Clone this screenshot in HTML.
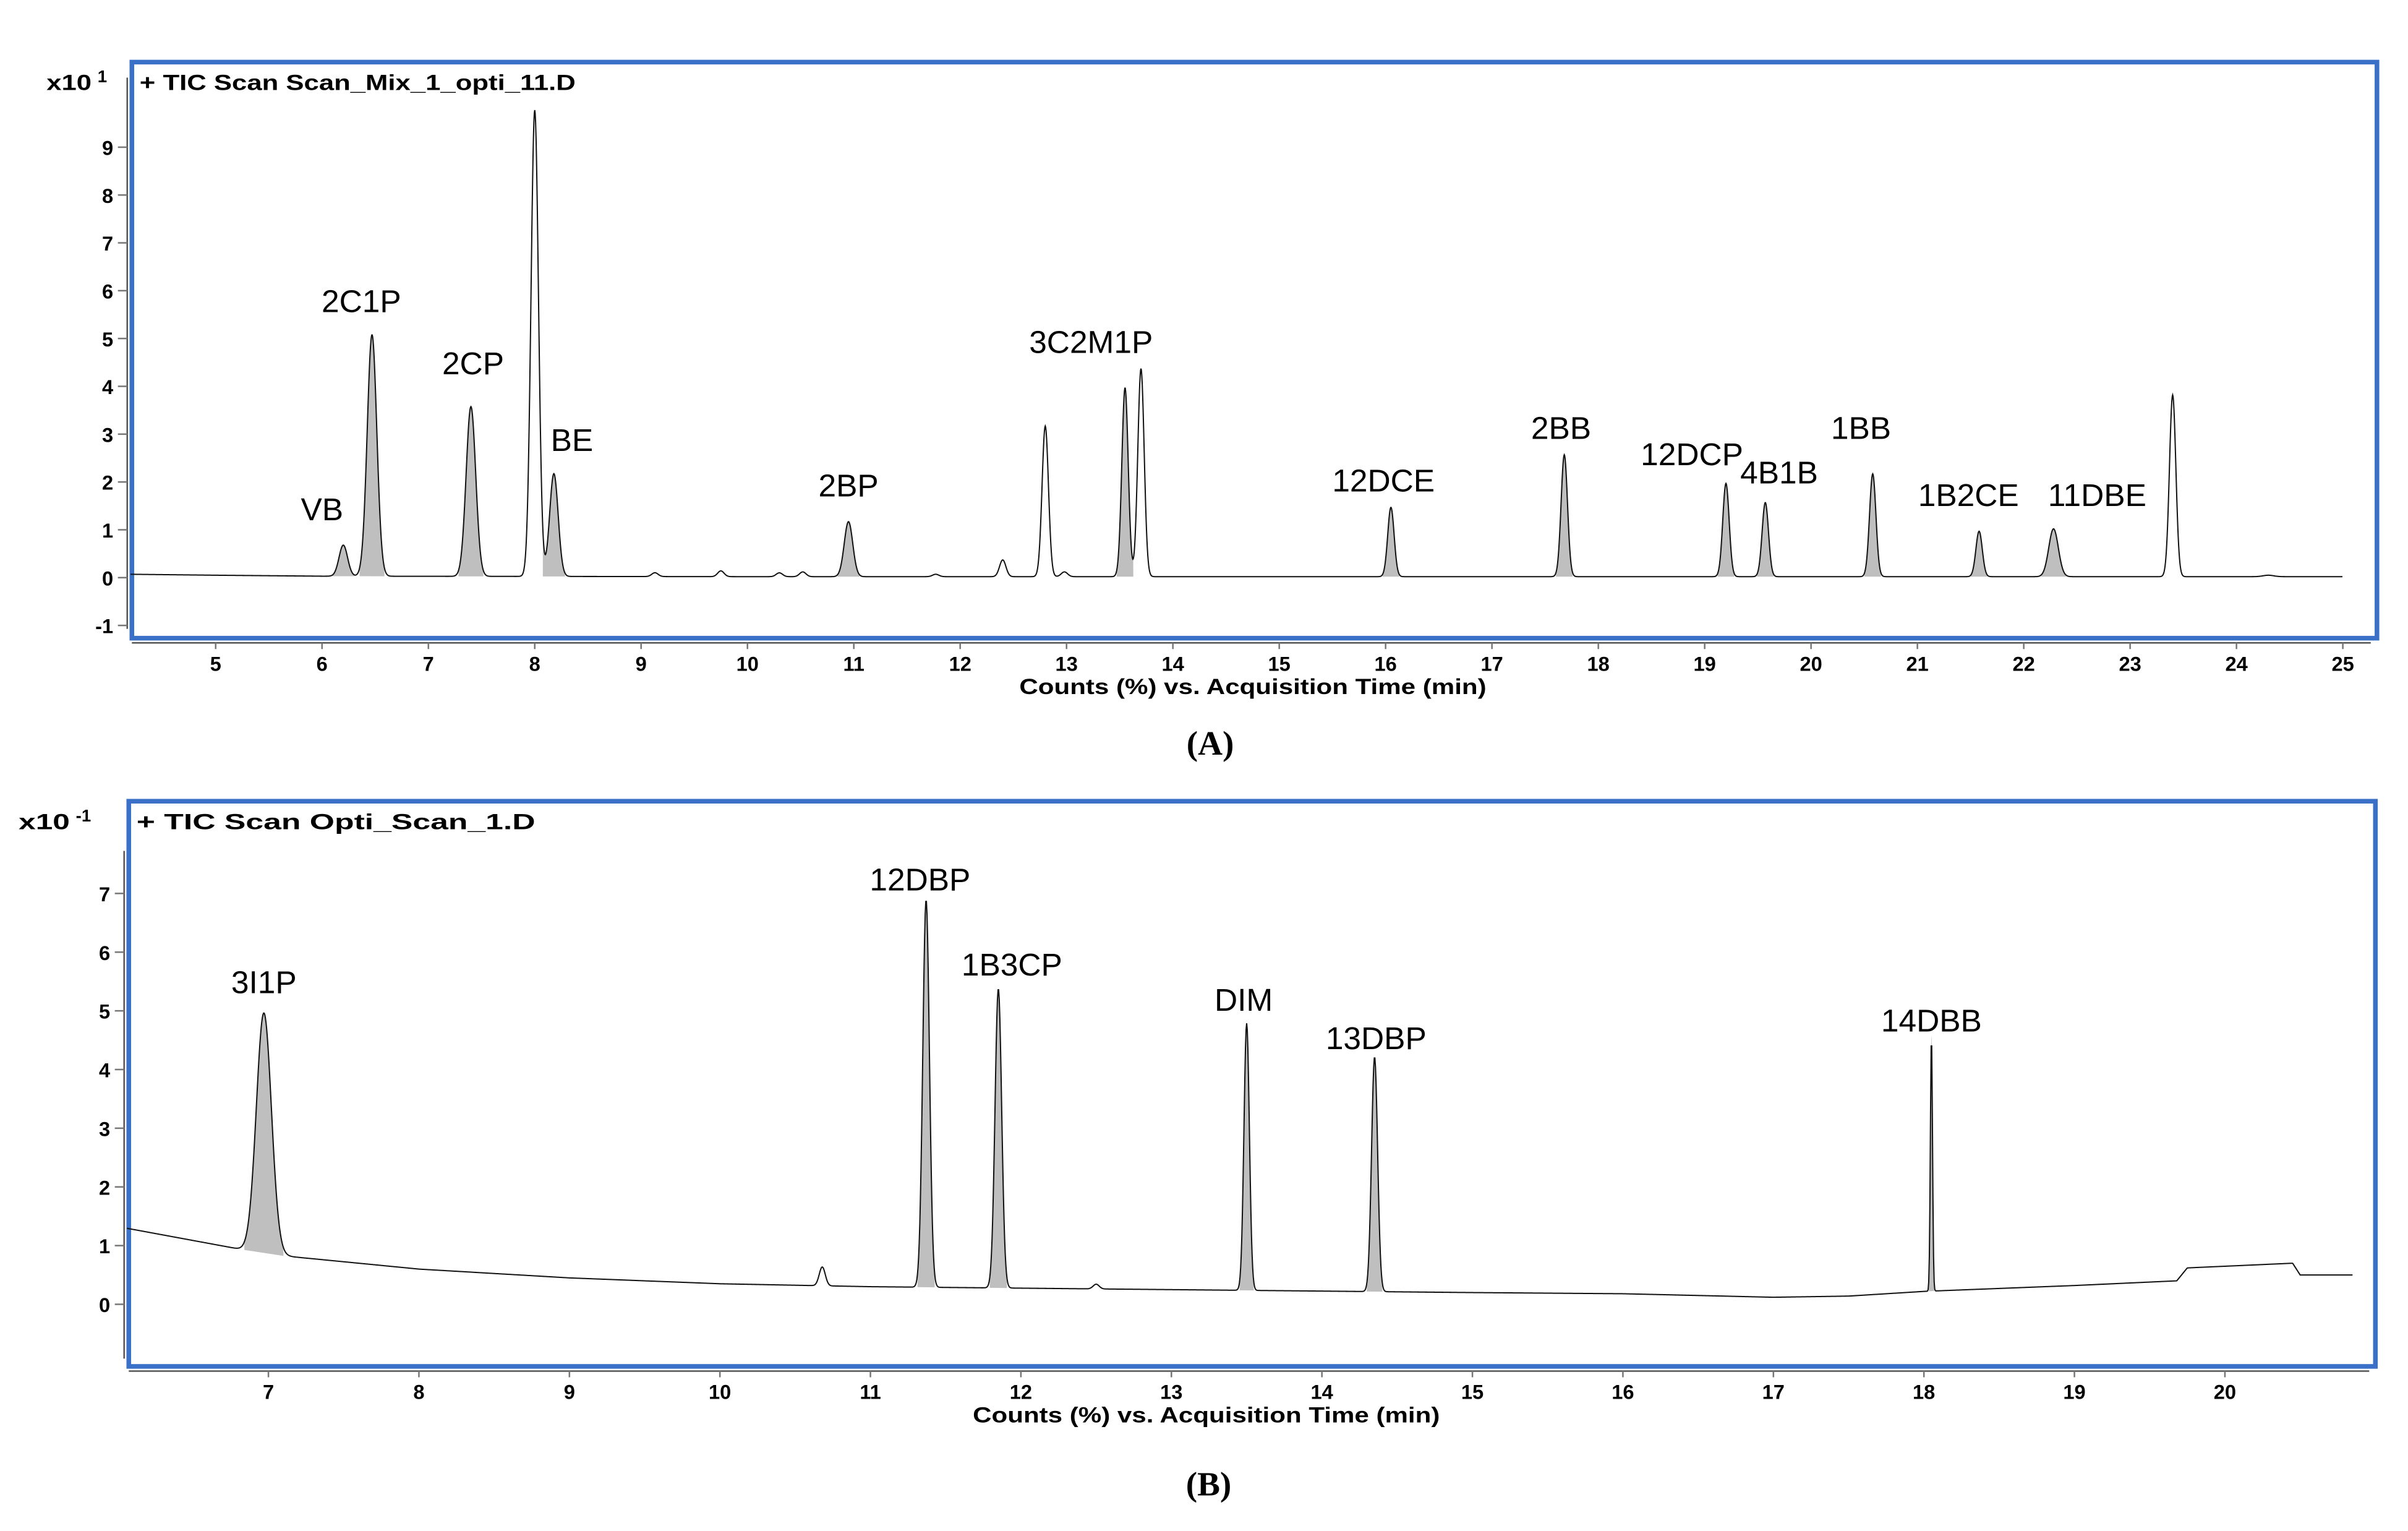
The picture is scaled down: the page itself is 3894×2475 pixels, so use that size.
<!DOCTYPE html>
<html><head><meta charset="utf-8"><style>
html,body{margin:0;padding:0;background:#fff;}
svg{display:block;}
text{font-family:"Liberation Sans",Arial,sans-serif;fill:#000;}
.tick{font-weight:bold;font-size:13px;}
.lbl{font-size:20.5px;}
.ttl{font-weight:bold;font-size:14px;}
.cap{font-family:"Liberation Serif",serif;font-weight:bold;font-size:22px;}
</style></head><body>
<svg id="fig" width="3894" height="2475" viewBox="0 0 1552 986" preserveAspectRatio="none" xmlns="http://www.w3.org/2000/svg">
<g id="panelA"></g>
<g id="panelB"></g>
<text class="cap" x="780" y="486" text-anchor="middle">(A)</text>
<text class="cap" x="779" y="963" text-anchor="middle">(B)</text>
</svg>
<script>
// ---- Panel A data ----
const aPeakTimes   = [6.2, 6.47, 7.4, 8.0, 8.18, 9.13, 9.75, 10.3, 10.52, 10.95, 11.77, 12.4, 12.8, 12.98, 13.55, 13.7, 16.05, 17.68, 19.2, 19.57, 20.58, 21.58, 22.28, 23.4, 24.3];
const aPeakHeights = [0.65, 5.05, 3.55, 9.75, 2.15, 0.08, 0.12, 0.08, 0.1, 1.15, 0.05, 0.35, 3.15, 0.1, 3.95, 4.35, 1.45, 2.55, 1.95, 1.55, 2.15, 0.95, 1.0, 3.8, 0.03];
const aPeakWidths  = [0.04, 0.045, 0.045, 0.035, 0.04, 0.03, 0.03, 0.03, 0.03, 0.04, 0.03, 0.03, 0.03, 0.03, 0.03, 0.03, 0.03, 0.03, 0.03, 0.03, 0.03, 0.03, 0.045, 0.03, 0.05];
const aPeakFilled  = [1,1,1,0,1,0,0,0,0,1,0,0,0,0,1,0,1,1,1,1,1,1,1,0,0];
const aBaseTimes   = [4.2, 5.0, 6.0, 10.0, 25.0];
const aBaseValues  = [0.07, 0.05, 0.03, 0.02, 0.02];
const aLabels      = ["VB","2C1P","2CP","BE","2BP","3C2M1P","12DCE","2BB","12DCP","4B1B","1BB","1B2CE","11DBE"];
const aLabelT      = [6.0, 6.37, 7.42, 8.35, 10.95, 13.23, 15.98, 17.65, 18.88, 19.7, 20.47, 21.48, 22.69];
const aLabelV      = [1.2, 5.55, 4.25, 2.65, 1.7, 4.7, 1.8, 2.9, 2.35, 1.97, 2.9, 1.5, 1.5];
const aXTicks      = [5,6,7,8,9,10,11,12,13,14,15,16,17,18,19,20,21,22,23,24,25];
const aYTicks      = [-1,0,1,2,3,4,5,6,7,8,9];

// ---- Panel B data ----
const bPeakTimes   = [6.97, 10.68, 11.37, 11.85, 12.5, 13.5, 14.35, 18.05];
const bPeakHeights = [4.1, 0.32, 6.6, 5.1, 0.08, 4.55, 4.0, 4.35];
const bPeakWidths  = [0.05, 0.02, 0.022, 0.022, 0.02, 0.018, 0.02, 0.007];
const bPeakFilled  = [1,0,1,1,0,1,1,1];
const bBaseTimes   = [6.05, 7.0, 8.0, 9.0, 10.0, 11.0, 13.0, 15.0, 16.0, 17.0, 17.5, 18.0, 19.0, 19.68, 19.75, 20.45, 20.5, 20.85];
const bBaseValues  = [1.3, 0.85, 0.6, 0.45, 0.35, 0.3, 0.25, 0.2, 0.18, 0.12, 0.14, 0.22, 0.32, 0.4, 0.62, 0.7, 0.5, 0.5];
const bLabels      = ["3I1P","12DBP","1B3CP","DIM","13DBP","14DBB"];
const bLabelT      = [6.97, 11.33, 11.94, 13.48, 14.36, 18.05];
const bLabelV      = [5.3, 7.05, 5.6, 5.0, 4.35, 4.65];
const bXTicks      = [7,8,9,10,11,12,13,14,15,16,17,18,19,20];
const bYTicks      = [0,1,2,3,4,5,6,7];

const NS = "http://www.w3.org/2000/svg";
function mk(parent, tag, attrs){ const e=document.createElementNS(NS,tag); for(const k in attrs) e.setAttribute(k,attrs[k]); parent.appendChild(e); return e; }

function interp(ts, vs, t){
  if(t<=ts[0]) return vs[0];
  for(let i=1;i<ts.length;i++){ if(t<=ts[i]){ const f=(t-ts[i-1])/(ts[i]-ts[i-1]); return vs[i-1]+f*(vs[i]-vs[i-1]); } }
  return vs[vs.length-1];
}

function drawPanel(g, cfg){
  const X = t => cfg.x0 + (t - cfg.t0) * cfg.px;
  const Y = v => cfg.y0 - v * cfg.py;
  const fr = mk(g,'rect',{x:cfg.fl,y:cfg.ft,width:cfg.fr-cfg.fl,height:cfg.fb-cfg.ft,fill:'none',stroke:'#3a70c8','stroke-width':3});
  
  
  const ya = mk(g,'line',{x1:cfg.fl-3,y1:cfg.yaTop,x2:cfg.fl-3,y2:cfg.yaBot,stroke:'#555','stroke-width':1});
  
  
  const xa = mk(g,'line',{x1:cfg.fl,y1:cfg.fb+3,x2:cfg.fr-4,y2:cfg.fb+3,stroke:'#555','stroke-width':1});
  
  
  cfg.yTicks.forEach(v=>{
    const l = mk(g,'line',{x1:cfg.fl-9,y1:Y(v),x2:cfg.fl-3,y2:Y(v),stroke:'#777','stroke-width':1});
    
    
    const t = mk(g,'text',{x:cfg.fl-12,y:Y(v)+5,'text-anchor':'end',class:'tick'});
    t.textContent = v;
    
    
  });
  cfg.xTicks.forEach(v=>{
    const l = mk(g,'line',{x1:X(v),y1:cfg.fb+3,x2:X(v),y2:cfg.fb+7,stroke:'#777','stroke-width':1});
    
    
    const t = mk(g,'text',{x:X(v),y:cfg.fb+21,'text-anchor':'middle',class:'tick'});
    t.textContent = v;
    
    
  });
  const xt = mk(g,'text',{x:cfg.xtL,y:cfg.fb+36,class:'ttl',textLength:301,lengthAdjust:'spacingAndGlyphs'});
  xt.textContent = 'Counts (%) vs. Acquisition Time (min)';
  
  
  const sc = mk(g,'text',{x:cfg.scX,y:cfg.ft+18,class:'ttl'});
  sc.innerHTML = '<tspan textLength="'+cfg.scW+'" lengthAdjust="spacingAndGlyphs">x10</tspan> <tspan dy="-5" font-size="11">'+cfg.exp+'</tspan>';
  
  
  const ti = mk(g,'text',{x:cfg.fl+5,y:cfg.ft+18,class:'ttl',textLength:cfg.titleW,lengthAdjust:'spacingAndGlyphs'});
  ti.textContent = cfg.title;
  
  

  const sig = t => { let v = interp(cfg.bt, cfg.bv, t); for(let i=0;i<cfg.pt.length;i++){ const d=(t-cfg.pt[i])/cfg.pw[i]; v += cfg.ph[i]*Math.exp(-0.5*d*d);} return v; };
  cfg.pt.forEach((c,i)=>{
    if(!cfg.pf[i]) return;
    const a=c-2.6*cfg.pw[i], b=c+2.6*cfg.pw[i];
    let d='M'+X(a)+','+Y(interp(cfg.bt,cfg.bv,a));
    for(let t=a;t<=b+1e-9;t+=cfg.pw[i]/12) d+=' L'+X(t).toFixed(2)+','+Y(sig(t)).toFixed(2);
    d+=' L'+X(b)+','+Y(interp(cfg.bt,cfg.bv,b))+' Z';
    const p = mk(g,'path',{d:d,fill:'#bfbfbf',stroke:'none'});
    
    
  });
  let d='';
  for(let t=cfg.tStart;t<=cfg.tEnd;t+=0.004){ d += (d?' L':'M')+X(t).toFixed(2)+','+Y(sig(t)).toFixed(2); }
  const tr = mk(g,'path',{d:d,fill:'none',stroke:'#111','stroke-width':0.8});
  
  
  cfg.lab.forEach((s,i)=>{
    const t = mk(g,'text',{x:X(cfg.lt[i]),y:Y(cfg.lv[i]),'text-anchor':'middle',class:'lbl'});
    t.textContent = s;
    
    
  });
}

drawPanel(document.getElementById('panelA'),{
  x0:139,t0:5,px:68.55,y0:372,py:30.8,
  fl:85,fr:1532,ft:40,fb:411,yaTop:50,yaBot:405,
  xTicks:aXTicks,yTicks:aYTicks,xtL:657,scX:30,scW:29,exp:'1',
  title:'+ TIC Scan Scan_Mix_1_opti_11.D',titleW:281,
  pt:aPeakTimes,ph:aPeakHeights,pw:aPeakWidths,pf:aPeakFilled,bt:aBaseTimes,bv:aBaseValues,
  tStart:4.2,tEnd:25.0,lab:aLabels,lt:aLabelT,lv:aLabelV
});
drawPanel(document.getElementById('panelB'),{
  x0:173,t0:7,px:97.0,y0:840,py:37.8,
  fl:83,fr:1531,ft:516,fb:880,yaTop:548,yaBot:875,
  xTicks:bXTicks,yTicks:bYTicks,xtL:627,scX:12,scW:33,exp:'-1',
  title:'+ TIC Scan Opti_Scan_1.D',titleW:257,
  pt:bPeakTimes,ph:bPeakHeights,pw:bPeakWidths,pf:bPeakFilled,bt:bBaseTimes,bv:bBaseValues,
  tStart:6.06,tEnd:20.85,lab:bLabels,lt:bLabelT,lv:bLabelV
});
</script>
</body></html>
